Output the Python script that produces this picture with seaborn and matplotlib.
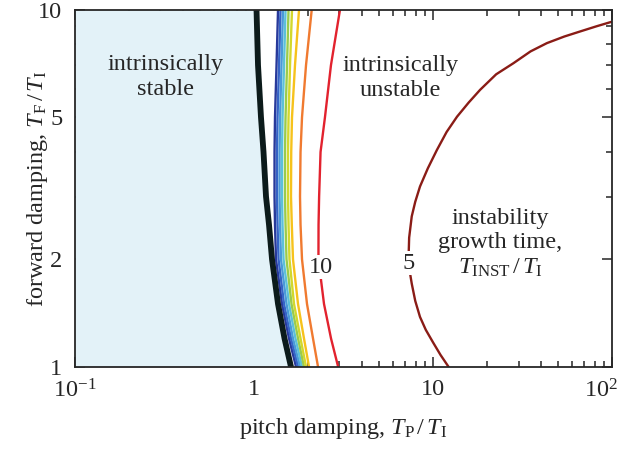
import matplotlib
matplotlib.use("Agg")
import matplotlib.pyplot as plt
import matplotlib.transforms as mtransforms
import seaborn as sns
from matplotlib.ticker import FixedLocator, FixedFormatter, NullFormatter

sns.set_style("ticks")
plt.rcParams['font.family'] = ['Liberation Serif', 'DejaVu Serif']
plt.rcParams['mathtext.fontset'] = 'custom'
plt.rcParams['mathtext.rm'] = 'Liberation Serif'
plt.rcParams['mathtext.it'] = 'Liberation Serif:italic'
plt.rcParams['font.size'] = 17.5

# forward damping T_F/T_I at which the contours were read
tf_levels = [1, 1.2, 1.5, 2, 2.5, 3, 4, 5, 7, 10]

# stability boundary: pitch damping T_P/T_I at each level
boundary_tp = [1.609, 1.481, 1.362, 1.261, 1.213, 1.167, 1.130, 1.094, 1.053, 1.033]

# growth-time contours (slowest first), pitch damping at each level
contour_tp = [
    [1.717, 1.569, 1.434, 1.327, 1.310, 1.302, 1.302, 1.310, 1.336, 1.362],
    [1.762, 1.609, 1.471, 1.371, 1.353, 1.344, 1.344, 1.353, 1.380, 1.406],
    [1.807, 1.651, 1.519, 1.415, 1.398, 1.389, 1.389, 1.398, 1.424, 1.452],
    [1.854, 1.705, 1.569, 1.462, 1.443, 1.434, 1.434, 1.443, 1.471, 1.500],
    [1.902, 1.762, 1.620, 1.519, 1.500, 1.490, 1.490, 1.500, 1.529, 1.559],
    [1.952, 1.819, 1.673, 1.578, 1.559, 1.549, 1.549, 1.559, 1.589, 1.630],
    [2.029, 1.902, 1.761, 1.651, 1.626, 1.609, 1.614, 1.630, 1.694, 1.784],
    [2.278, 2.136, 1.977, 1.854, 1.819, 1.807, 1.819, 1.854, 1.952, 2.100],
    [2.950, 2.693, 2.460, 2.290, 2.293, 2.310, 2.353, 2.490, 2.690, 3.020],  # T_INST/T_I = 10
]
contour_colors = ['#28399a', '#3563c6', '#4a9ad8', '#5cc0d8', '#9acb4c',
                  '#d2d82c', '#f6c21c', '#f07a30', '#e2222e']

# T_INST/T_I = 5 contour
c5_tp = [12.2, 11.0, 10.0, 9.1, 8.45, 7.95, 7.60, 7.28, 7.35, 7.60, 7.95, 8.45, 9.35,
         10.5, 11.9, 13.6, 15.8, 18.3, 22.5, 28.1, 35.0, 43.2, 54.0, 66.2, 82.0, 100]
c5_tf = [1.0, 1.08, 1.17, 1.27, 1.38, 1.53, 1.71, 1.95, 2.30, 2.64, 2.90, 3.20, 3.60,
         4.05, 4.55, 5.02, 5.50, 5.97, 6.60, 7.09, 7.65, 8.07, 8.42, 8.70, 9.00, 9.27]

fig = plt.figure(figsize=(6.19, 4.49), dpi=100)
ax = fig.add_axes([0.121, 0.183, 0.868, 0.795])
ax.set_xscale('log')
ax.set_yscale('log')

ax.fill_betweenx(tf_levels, 0.1, boundary_tp, color='#e3f2f8', lw=0)

for tp, c in zip(contour_tp, contour_colors):
    sns.lineplot(x=tp, y=tf_levels, sort=False, estimator=None, color=c, lw=1.7, ax=ax)
sns.lineplot(x=c5_tp, y=c5_tf, sort=False, estimator=None, color='#8a1c16', lw=1.7, ax=ax)
sns.lineplot(x=boundary_tp, y=tf_levels, sort=False, estimator=None, color='#0c1b1b', lw=4.2, ax=ax)

ax.text(2.37, 1.9, '10', ha='center', va='center',
        bbox=dict(facecolor='white', edgecolor='none', pad=1))
ax.text(7.28, 1.95, '5', ha='center', va='center',
        bbox=dict(facecolor='white', edgecolor='none', pad=1))

ax.text(0.32, 6.5, 'intrinsically\nstable', ha='center', va='center', linespacing=1.25)
ax.text(6.55, 6.45, 'intrinsically\nunstable', ha='center', va='center', linespacing=1.25)
ax.text(23.7, 2.22, 'instability\ngrowth time,\n$T_\\mathrm{INST}\\,/\\,T_\\mathrm{I}$',
        ha='center', va='center', linespacing=1.2)

ax.set_xlim(0.1, 100)
ax.set_ylim(1, 10)
ax.xaxis.set_major_locator(FixedLocator([0.1, 1, 10, 100]))
ax.xaxis.set_major_formatter(FixedFormatter(['$10^{-1}$', '1', '10', '$10^2$']))
ax.xaxis.set_minor_formatter(NullFormatter())
ax.yaxis.set_major_locator(FixedLocator([1, 2, 5, 10]))
ax.yaxis.set_major_formatter(FixedFormatter(['1', '2', '5', '10']))
ax.yaxis.set_minor_locator(FixedLocator([3, 4, 6, 7, 8, 9]))
ax.yaxis.set_minor_formatter(NullFormatter())

ax.tick_params(which='both', direction='in', top=True, right=True, width=1.1, labelsize=17.5)
ax.tick_params(which='major', length=7, pad=9)
ax.tick_params(which='minor', length=4)
for s in ax.spines.values():
    s.set_linewidth(1.3)

ax.set_xlabel('pitch damping, $T_\\mathrm{P}\\,/\\,T_\\mathrm{I}$', fontsize=17.5, labelpad=10)
ax.set_ylabel('forward damping, $T_\\mathrm{F}\\,/\\,T_\\mathrm{I}$', fontsize=17.5)
ax.yaxis.set_label_coords(-0.047, 0.5)

# nudge the last x tick label left so the exponent stays inside the figure
fig.canvas.draw()
last = ax.get_xticklabels()[-1]
last.set_transform(last.get_transform() + mtransforms.ScaledTranslation(-0.11, 0, fig.dpi_scale_trans))

fig.savefig('out.png', dpi=100)
